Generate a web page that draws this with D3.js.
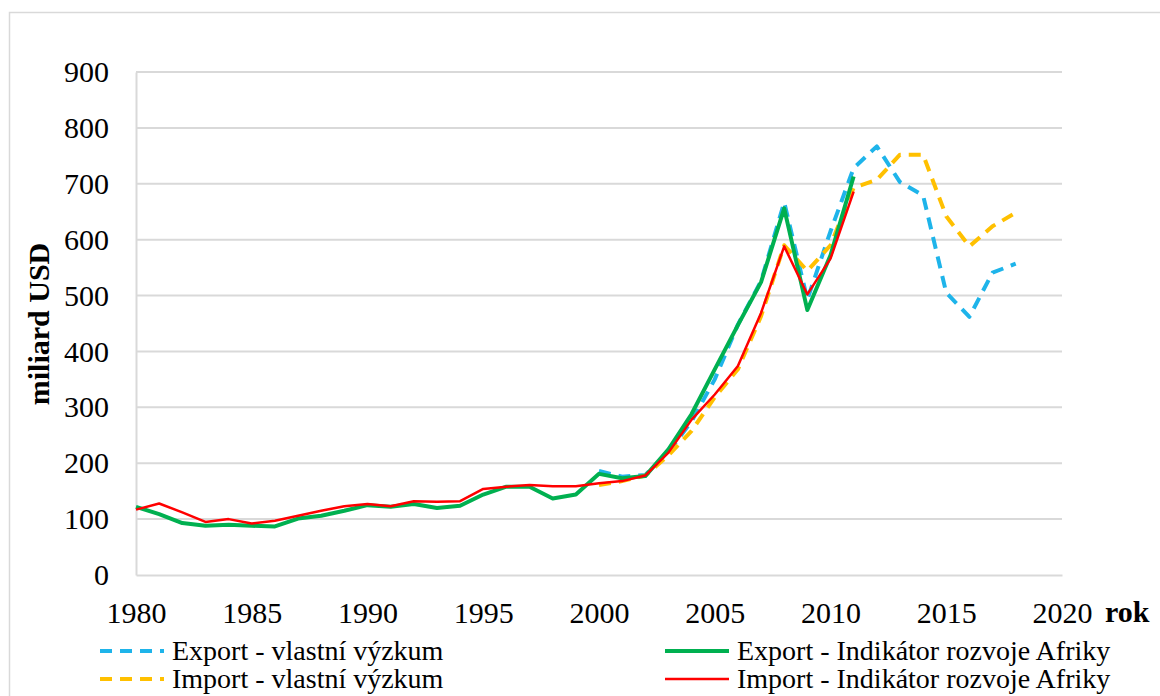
<!DOCTYPE html>
<html>
<head>
<meta charset="utf-8">
<script src="https://cdn.jsdelivr.net/npm/d3@7"></script>
</head>
<body style="margin:0; background:#fff">
<script>
// data (miliard USD)
const yearsAfdb = d3.range(1980, 2012);
const exportAfdb = [122, 109, 93, 88, 90, 88, 87, 101, 106, 115, 125, 122, 127, 120, 124, 144,
  158, 158, 137, 144, 181, 173, 177, 225, 288, 368, 447, 524, 656, 474, 572, 713];
const importAfdb = [117, 128, 112, 95, 100, 92, 97, 106, 115, 123, 127, 123, 132, 131, 132, 154,
  158, 161, 159, 159, 164, 168, 178, 219, 278, 323, 374, 469, 588, 502, 566, 686];

const yearsOwn = d3.range(2000, 2019);
const exportOwn = [186, 176, 179, 220, 275, 350, 448, 526, 667, 493, 615, 728, 767, 703, 679,
  505, 462, 541, 557];
const importOwn = [161, 168, 178, 214, 258, 318, 368, 463, 590, 544, 590, 693, 707, 752, 752,
  642, 588, 624, 648];

const xTicks = [1980, 1985, 1990, 1995, 2000, 2005, 2010, 2015, 2020];
const yTicks = [0, 100, 200, 300, 400, 500, 600, 700, 800, 900];

const seriesNames = ["Export - vlastní výzkum", "Export - Indikátor rozvoje Afriky",
  "Import - vlastní výzkum", "Import - Indikátor rozvoje Afriky"];

// canvas
const width = 1160;
const height = 696;
const plot = {left: 136, right: 1062, top: 72, bottom: 575};
const serif = 'Liberation Serif';

const svg = d3.select('body')
  .append('svg')
  .attr('width', width)
  .attr('height', height)
  .attr('font-family', serif);

// outer frame
svg.append('rect')
  .attr('x', 9.5)
  .attr('y', 12.5)
  .attr('width', 1200)
  .attr('height', 800)
  .attr('fill', 'none')
  .attr('stroke', '#d9d9d9')
  .attr('stroke-width', 1.5);

const x = d3.scaleLinear().domain([1980, 2020]).range([plot.left, plot.right]);
const y = d3.scaleLinear().domain([0, 900]).range([plot.bottom, plot.top]);

// gridlines
svg.append('g')
  .selectAll('line')
  .data(yTicks.filter((d) => d > 0))
  .join('line')
  .attr('x1', plot.left)
  .attr('x2', plot.right)
  .attr('y1', (d) => y(d))
  .attr('y2', (d) => y(d))
  .attr('stroke', '#d9d9d9')
  .attr('stroke-width', 2);

// axes
const yAxis = svg.append('g')
  .attr('transform', `translate(${plot.left},0)`)
  .call(d3.axisLeft(y).tickValues(yTicks).tickSize(0).tickPadding(27));
const xAxis = svg.append('g')
  .attr('transform', `translate(0,${plot.bottom})`)
  .call(d3.axisBottom(x).tickValues(xTicks).tickFormat(d3.format('d')).tickSize(0).tickPadding(27));

[xAxis, yAxis].forEach((ax) => {
  ax.attr('font-family', serif).attr('font-size', 30);
  ax.select('.domain').attr('stroke', '#d9d9d9').attr('stroke-width', 2);
  ax.selectAll('text')
    .attr('font-family', serif)
    .attr('font-size', 30)
    .attr('fill', '#000');
});

// axis titles
svg.append('text')
  .attr('transform', 'translate(49,324) rotate(-90)')
  .attr('text-anchor', 'middle')
  .attr('font-family', serif)
  .attr('font-size', 30)
  .attr('font-weight', 'bold')
  .text('miliard USD');

svg.append('text')
  .attr('x', 1105)
  .attr('y', 622)
  .attr('font-family', serif)
  .attr('font-size', 30)
  .attr('font-weight', 'bold')
  .text('rok');

// lines
const line = d3.line()
  .x((d) => x(d[0]))
  .y((d) => y(d[1]));

const series = [
  {name: seriesNames[0], years: yearsOwn, values: exportOwn, color: '#1eb4ea', width: 4, dash: '12,8'},
  {name: seriesNames[2], years: yearsOwn, values: importOwn, color: '#ffc000', width: 4, dash: '12,8'},
  {name: seriesNames[1], years: yearsAfdb, values: exportAfdb, color: '#00b050', width: 4, dash: null},
  {name: seriesNames[3], years: yearsAfdb, values: importAfdb, color: '#ff0000', width: 2.5, dash: null}
];

svg.append('g')
  .selectAll('path')
  .data(series)
  .join('path')
  .attr('d', (s) => line(s.years.map((yr, i) => [yr, s.values[i]])))
  .attr('fill', 'none')
  .attr('stroke', (s) => s.color)
  .attr('stroke-width', (s) => s.width)
  .attr('stroke-dasharray', (s) => s.dash)
  .attr('stroke-linejoin', 'round');

// legend, two columns
const legendPos = [
  {x: 100, y: 651}, {x: 665, y: 651},
  {x: 100, y: 679}, {x: 665, y: 679}
];
const legendOrder = [series[0], series[2], series[1], series[3]];

const legend = svg.append('g')
  .selectAll('g')
  .data(legendOrder)
  .join('g')
  .attr('transform', (d, i) => `translate(${legendPos[i].x},${legendPos[i].y})`);

legend.append('line')
  .attr('x1', 0)
  .attr('x2', 64)
  .attr('stroke', (d) => d.color)
  .attr('stroke-width', (d) => d.width)
  .attr('stroke-dasharray', (d) => d.dash);

legend.append('text')
  .attr('x', 72)
  .attr('y', 9)
  .attr('font-family', serif)
  .attr('font-size', 28)
  .text((d) => d.name);
</script>
</body>
</html>
